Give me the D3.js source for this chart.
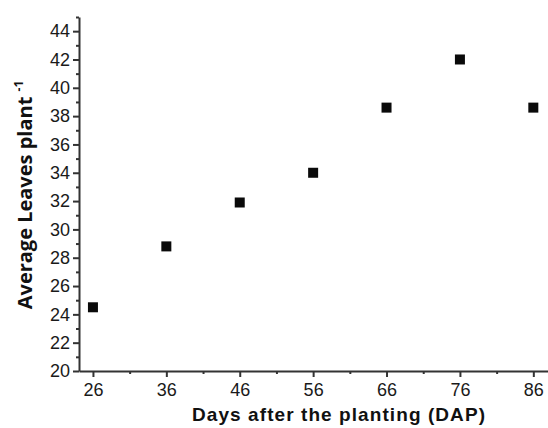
<!DOCTYPE html>
<html>
<head>
<meta charset="utf-8">
<script src="https://cdn.jsdelivr.net/npm/d3@7"></script>
<style>
  body { margin: 0; background: #fff; }
  .tick text { font-family: "Liberation Sans", Arial, sans-serif; fill: #1a1a1a; }
</style>
</head>
<body>
<div id="chart"></div>
<script>
// data
var days = [26, 36, 46, 56, 66, 76, 86];
var leaves = [24.5, 28.8, 31.9, 34.0, 38.6, 42.0, 38.6];
var yTicks = [20, 22, 24, 26, 28, 30, 32, 34, 36, 38, 40, 42, 44];
var yMinor = [21, 23, 25, 27, 29, 31, 33, 35, 37, 39, 41, 43, 45];
var xMinor = [31, 41, 51, 61, 71, 81];

var svgWidth = 548;
var svgHeight = 428;

var svg = d3.select("#chart")
  .append("svg")
  .attr("width", svgWidth)
  .attr("height", svgHeight);

// scales
var xScale = d3.scaleLinear()
  .domain([24.1, 88])
  .range([79, 548]);

var yScale = d3.scaleLinear()
  .domain([20, 45])
  .range([371, 17]);

// minor ticks first so the axis line sits over them
svg.append("g")
  .attr("transform", "translate(0, 371)")
  .call(d3.axisBottom(xScale).tickValues(xMinor).tickSize(3).tickFormat(""))
  .call(g => g.select(".domain").remove())
  .selectAll("line").attr("stroke", "#333").attr("stroke-width", 2);

svg.append("g")
  .attr("transform", "translate(79, 0)")
  .call(d3.axisLeft(yScale).tickValues(yMinor).tickSize(3).tickFormat(""))
  .call(g => g.select(".domain").remove())
  .selectAll("line").attr("stroke", "#333").attr("stroke-width", 2);

// major axes
var xAxis = svg.append("g")
  .attr("transform", "translate(0, 371)")
  .call(d3.axisBottom(xScale).tickValues(days).tickSize(6).tickSizeOuter(0).tickPadding(6));

var yAxis = svg.append("g")
  .attr("transform", "translate(79, 0)")
  .call(d3.axisLeft(yScale).tickValues(yTicks).tickSize(6).tickSizeOuter(0).tickPadding(3));

[xAxis, yAxis].forEach(function(ax) {
  ax.select(".domain").attr("stroke", "#333").attr("stroke-width", 2);
  ax.selectAll(".tick line").attr("stroke", "#333").attr("stroke-width", 2);
  ax.selectAll(".tick text").attr("font-size", "18px");
});

// points
svg.selectAll("rect.pt")
  .data(days)
  .enter()
  .append("rect")
  .attr("class", "pt")
  .attr("x", (d, i) => xScale(d) - 5)
  .attr("y", (d, i) => yScale(leaves[i]) - 5)
  .attr("width", 10)
  .attr("height", 10)
  .attr("fill", "#0a0a0a");

// axis titles
svg.append("text")
  .attr("x", 192)
  .attr("y", 421)
  .attr("textLength", 293)
  .attr("lengthAdjust", "spacing")
  .attr("font-family", "Liberation Sans, Arial, sans-serif")
  .attr("font-weight", "bold")
  .attr("font-size", "19px")
  .attr("fill", "#111")
  .text("Days after the planting (DAP)");

var yTitle = svg.append("text")
  .attr("transform", "translate(32, 195) rotate(-90)")
  .attr("text-anchor", "middle")
  .attr("font-family", "Open Sans, sans-serif")
  .attr("font-weight", "bold")
  .attr("font-size", "20px")
  .attr("fill", "#111");

yTitle.append("tspan").text("Average Leaves plant ");
yTitle.append("tspan")
  .attr("dy", -9)
  .attr("font-size", "12px")
  .text("-1");
</script>
</body>
</html>
